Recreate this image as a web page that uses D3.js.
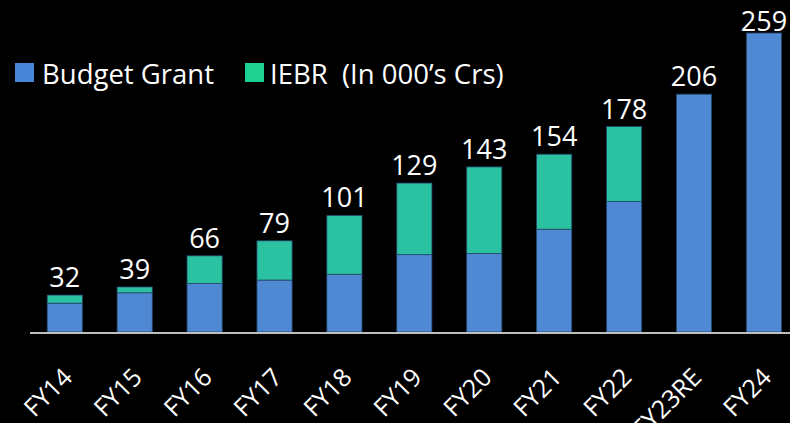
<html>
<head>
<meta charset="UTF-8">
<script src="https://cdn.jsdelivr.net/npm/d3@7"></script>
<style>
  body { margin: 0; background: #000; }
  text { font-family: "Open Sans", Calibri, sans-serif; fill: #fff; }
</style>
</head>
<body>
<script>
// years on the x axis
let years = ["FY14","FY15","FY16","FY17","FY18","FY19","FY20","FY21","FY22","FY23RE","FY24"];
// values in 000's Crs
let budgetGrant = [25, 34, 42, 45, 50, 67, 68, 89, 113, 206, 259];
let iebr        = [7, 5, 24, 34, 51, 62, 75, 65, 65, 0, 0];
let totals      = [32, 39, 66, 79, 101, 129, 143, 154, 178, 206, 259];

let seriesNames = ["Budget Grant", "IEBR"];
let barColors = ["#4f89d4", "#2bc2a1"];
let legendColors = ["#4a86d8", "#1fd190"];

var W = 790, H = 423;
var margin = {top: 33, right: 0, bottom: 91, left: 30};

var svg = d3.select("body").append("svg")
  .attr("width", W).attr("height", H)
  .style("background", "#000");

var rows = years.map(function(y, i) {
  return {year: y, "Budget Grant": budgetGrant[i], "IEBR": iebr[i], total: totals[i]};
});

var x = d3.scaleBand().domain(years).range([29.7, 799]).paddingInner(0.497).paddingOuter(0.25);
var y = d3.scaleLinear().domain([0, 259]).range([H - margin.bottom, margin.top]);

var stack = d3.stack().keys(seriesNames);
var layers = stack(rows);

svg.selectAll(".layer")
  .data(layers)
  .enter().append("g")
    .attr("class", "layer")
    .attr("fill", function(d, i) { return barColors[i]; })
  .selectAll("rect")
  .data(function(d) { return d; })
  .enter().append("rect")
    .attr("x", function(d) { return x(d.data.year); })
    .attr("width", x.bandwidth())
    .attr("y", function(d) { return y(d[1]); })
    .attr("height", function(d) { return y(d[0]) - y(d[1]); })
    .attr("stroke", "#24476b")
    .attr("stroke-width", 0.8);

// axis line
svg.append("line")
  .attr("x1", 30).attr("x2", W)
  .attr("y1", y(0) + 1).attr("y2", y(0) + 1)
  .attr("stroke", "#bfbfbf").attr("stroke-width", 2);

// value labels (kept inside the top edge)
svg.selectAll(".val")
  .data(rows)
  .enter().append("text")
    .attr("class", "val")
    .attr("x", function(d) { return x(d.year) + x.bandwidth() / 2; })
    .attr("y", function(d) { return Math.max(y(d.total) - 8, 31); })
    .attr("text-anchor", "middle")
    .style("font-size", "27px")
    .text(function(d) { return d.total; });

// x labels rotated
svg.selectAll(".xl")
  .data(years)
  .enter().append("text")
    .attr("class", "xl")
    .attr("text-anchor", "end")
    .attr("transform", function(d) {
      return "translate(" + (x(d) + x.bandwidth() / 2 + 9) + "," + 379 + ") rotate(-45)";
    })
    .style("font-size", "25px")
    .text(function(d) { return d; });

// legend
var legend = [
  {label: "Budget Grant", sx: 15, tx: 42},
  {label: "IEBR  (In 000\u2019s Crs)", sx: 245, tx: 270}
];
legend.forEach(function(l, i) {
  svg.append("rect")
    .attr("x", l.sx).attr("y", 63).attr("width", 19).attr("height", 19)
    .attr("fill", legendColors[i]);
  svg.append("text")
    .attr("x", l.tx).attr("y", 84)
    .style("font-size", "27.5px")
    .attr("xml:space", "preserve")
    .style("white-space", "pre")
    .text(l.label);
});
</script>
</body>
</html>
